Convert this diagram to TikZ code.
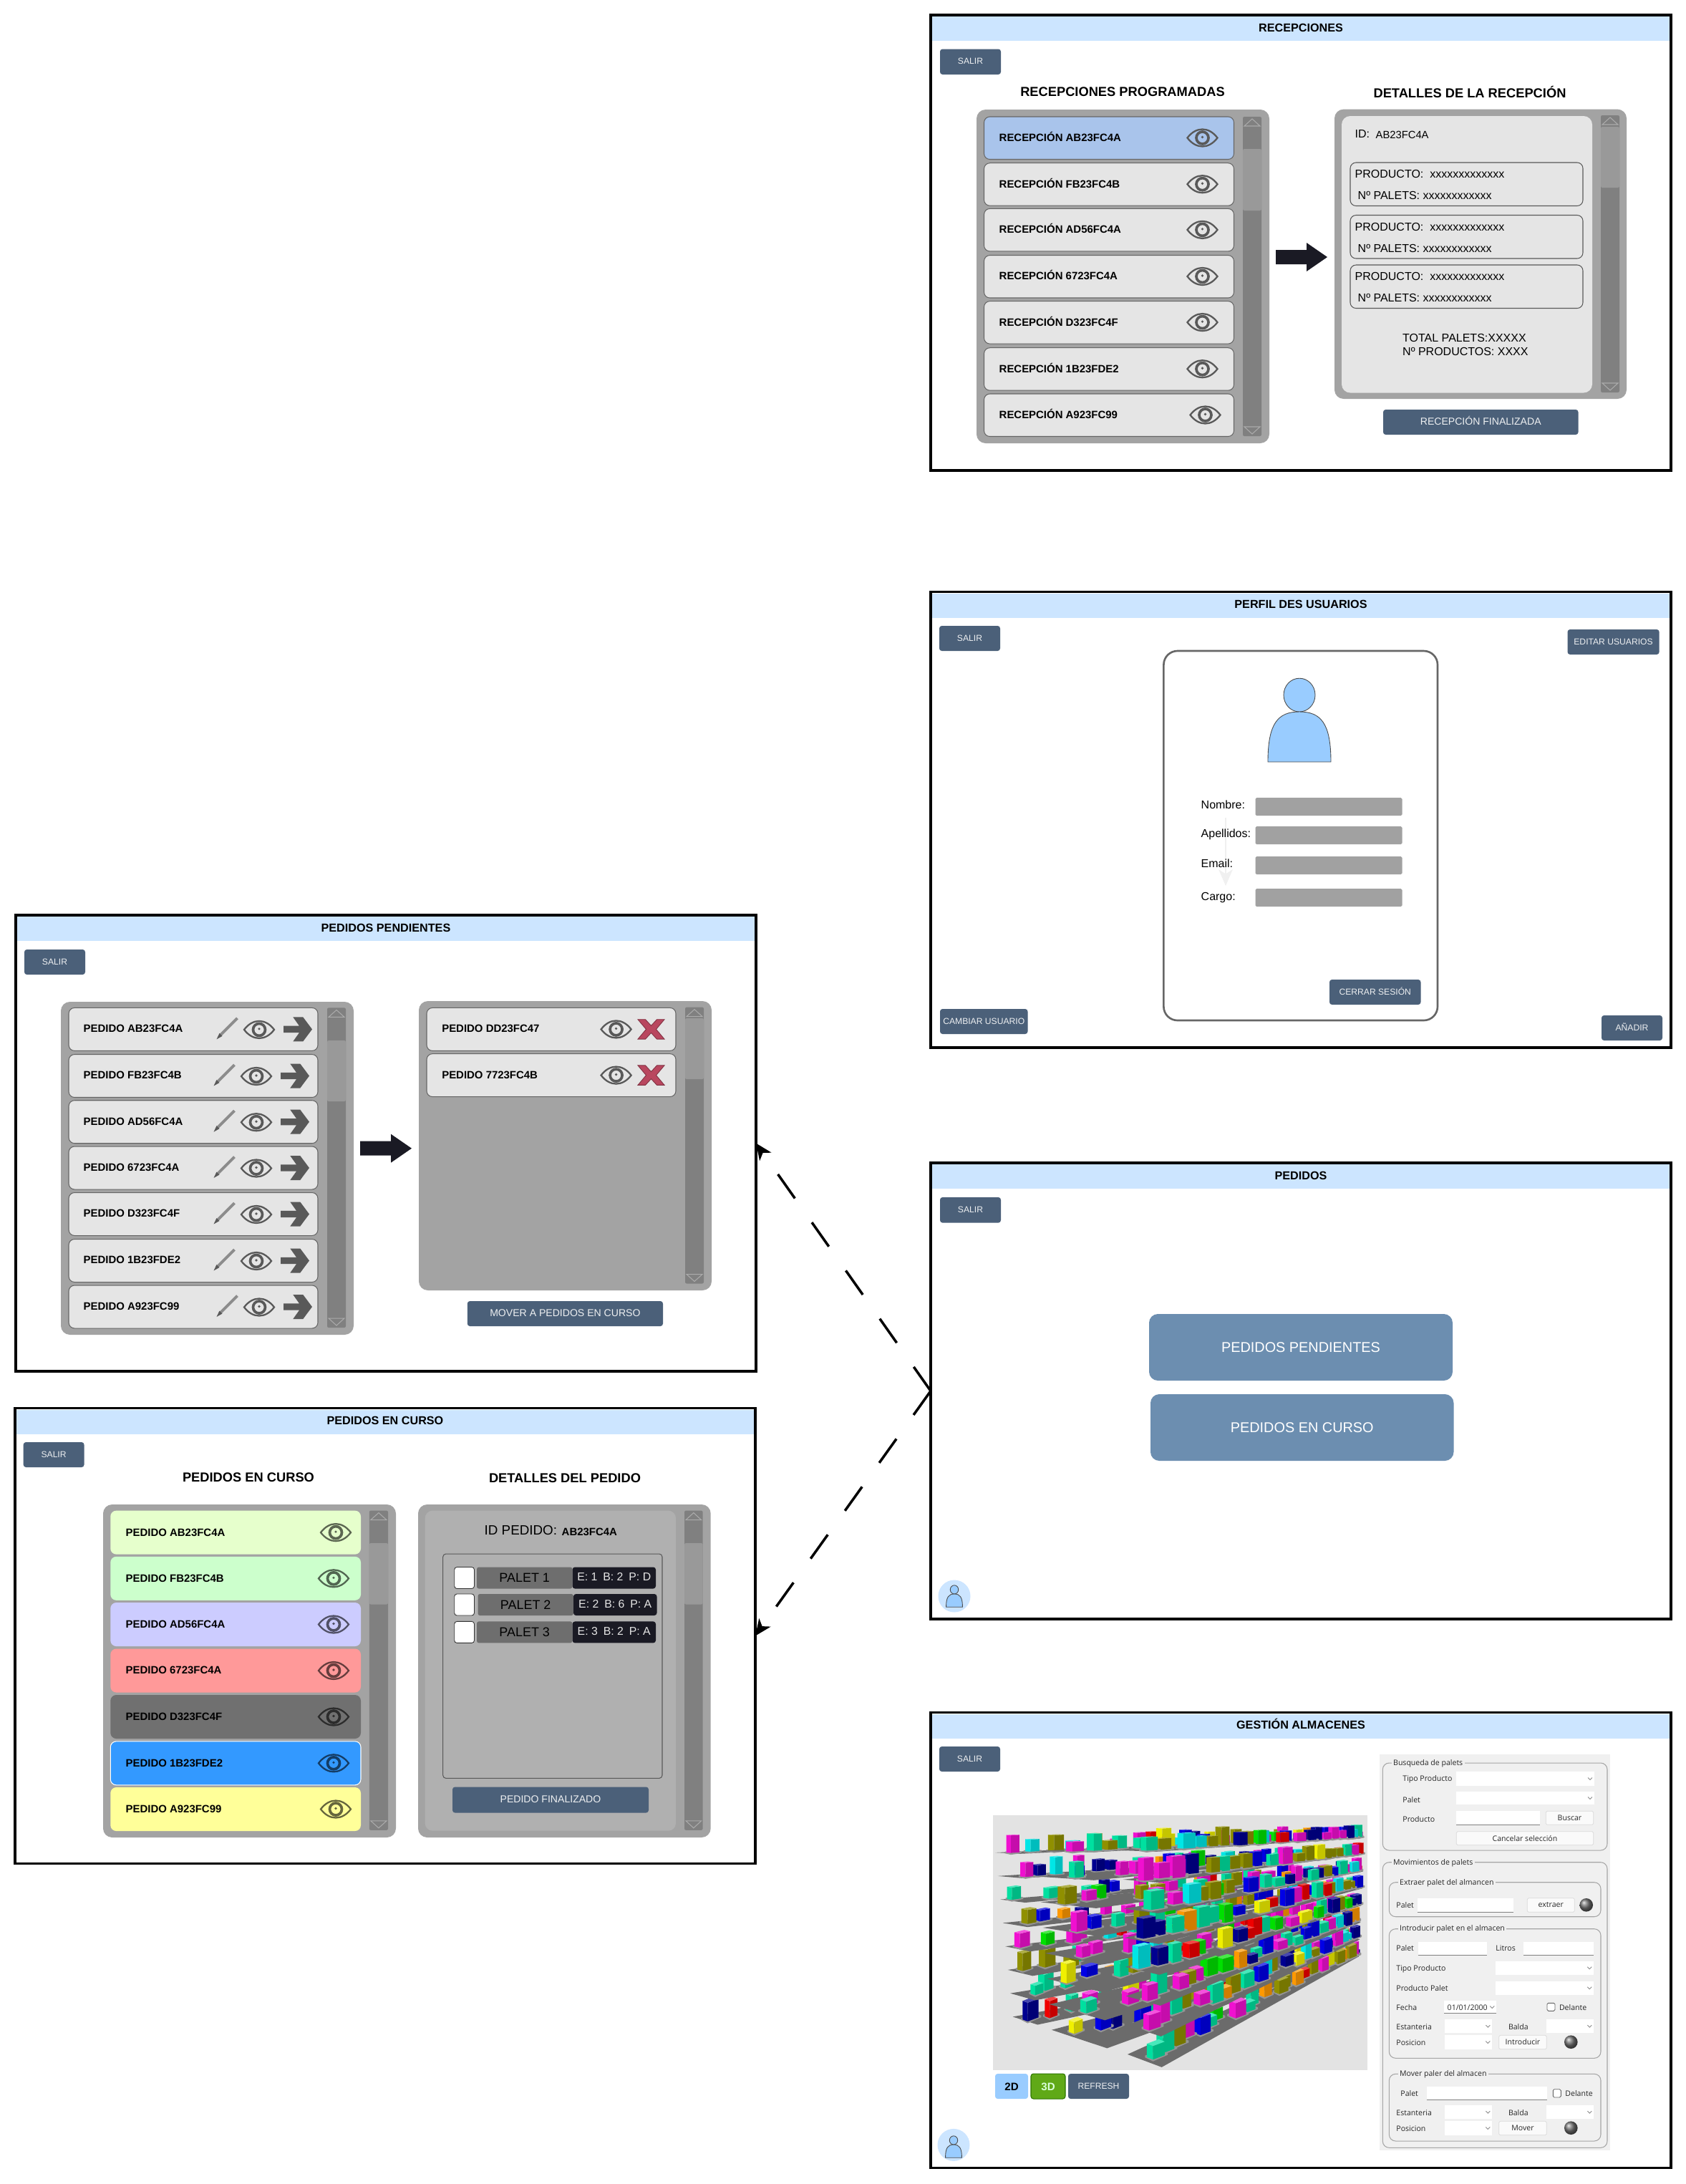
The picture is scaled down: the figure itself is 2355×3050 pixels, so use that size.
\documentclass[tikz,border=0pt]{standalone}
\usepackage{fontspec}
\setmainfont{Liberation Sans}
\newfontfamily\uifont{Open Sans}
\usetikzlibrary{arrows.meta}
\definecolor{btnblue}{HTML}{4B6079}
\definecolor{barblue}{HTML}{CCE5FF}
\definecolor{bigblue}{HTML}{6C8EB0}
\definecolor{personblue}{HTML}{99CCFF}
\definecolor{selblue}{HTML}{A9C4EB}
\definecolor{xred}{HTML}{B9475F}
\definecolor{inkdark}{HTML}{1A1A24}
\definecolor{rowa}{HTML}{E6FFCC}
\definecolor{rowb}{HTML}{CCFFCC}
\definecolor{rowc}{HTML}{CCCCFF}
\definecolor{rowd}{HTML}{FF9999}
\definecolor{rowe}{HTML}{707070}
\definecolor{rowf}{HTML}{3399FF}
\definecolor{rowg}{HTML}{FFFF99}
\definecolor{bxm}{HTML}{F010D0}
\definecolor{bxt}{HTML}{00E0A0}
\definecolor{bxo}{HTML}{909000}
\definecolor{bxb}{HTML}{0000E6}
\definecolor{bxr}{HTML}{F00000}
\definecolor{bxg}{HTML}{00E000}
\definecolor{bxc}{HTML}{00E6E6}
\definecolor{bxn}{HTML}{000090}
\definecolor{bxa}{HTML}{FF9900}
\definecolor{bxy}{HTML}{F0F000}
\pgfmathdeclarerandomlist{boxcols}{{bxm}{bxm}{bxm}{bxm}{bxm}{bxt}{bxt}{bxt}{bxo}{bxo}{bxo}{bxb}{bxb}{bxr}{bxg}{bxc}{bxn}{bxa}{bxy}}
\tikzset{
  panelframe/.style={draw=black,line width=1pt,fill=white,inner sep=0,outer sep=0},
  titlebar/.style={fill=barblue,inner sep=0,outer sep=0,text height=3.3pt,text depth=1pt,font=\bfseries\fontsize{4.6}{5}\selectfont},
  btn/.style={fill=btnblue,rounded corners=1pt,inner sep=0,outer sep=0,text=white!90!btnblue,
    text height=3pt,text depth=1pt,font=\fontsize{3.45}{4}\selectfont},
  btnbig/.style={btn,font=\fontsize{4}{5}\selectfont},
  bigbtn/.style={fill=bigblue,rounded corners=3.5pt,inner sep=0,outer sep=0,text=white,font=\fontsize{5.65}{6}\selectfont},
  listbox/.style={fill=black!36,rounded corners=3.6pt,inner sep=0,outer sep=0},
  rowbox/.style={fill=black!10,draw=black!60,line width=.3pt,rounded corners=2.3pt,inner sep=0,outer sep=0},
  rowtint/.style={rounded corners=2.3pt,inner sep=0,outer sep=0},
  rowlabel/.style={anchor=west,inner sep=0,text height=3.1pt,text depth=0pt,font=\bfseries\fontsize{4.25}{5}\selectfont},
  plainlabel/.style={anchor=west,inner sep=0,text height=3.3pt,text depth=0pt,font=\fontsize{4.55}{5.5}\selectfont},
  headlabel/.style={inner sep=0,font=\bfseries\fontsize{5.2}{6}\selectfont},
  trackbox/.style={fill=black!50,rounded corners=.6pt,inner sep=0,outer sep=0},
  thumbbox/.style={fill=black!40,rounded corners=.6pt,inner sep=0,outer sep=0},
  prodbox/.style={draw=black!65,line width=.3pt,rounded corners=2.3pt,inner sep=0,outer sep=0},
  fieldbar/.style={fill=black!37,rounded corners=.5pt,inner sep=0,outer sep=0},
  uitext/.style={anchor=west,inner sep=0,text=black!85,font=\uifont\fontsize{3}{3.6}\selectfont},
  uigroup/.style={draw=black!35,line width=.3pt,rounded corners=2.6pt,inner sep=0,outer sep=0},
  uititle/.style={uitext,fill=black!6,inner xsep=.7pt,inner ysep=.3pt},
  uifield/.style={fill=white,inner sep=0,outer sep=0},
  uibtn/.style={fill=white!98!black,draw=black!15,line width=.2pt,rounded corners=.5pt,inner sep=0,outer sep=0,
    text=black!85,font=\uifont\fontsize{3}{3.6}\selectfont},
  ledball/.style={circle,inner sep=0,minimum size=5.3pt,ball color=black!55},
  tickbox/.style={draw=black!60,line width=.25pt,fill=white,rounded corners=.5pt,inner sep=0,outer sep=0},
  linkarrow/.style={->,line width=1pt,dash pattern=on 11.7pt off 11.7pt},
}
\newcommand{\boxnode}[7][]{\node[#1,minimum width=((#5)-(#3))*0.01cm,minimum height=((#6)-(#4))*0.01cm] (#2) at ({((#3)+(#5))/2},{((#4)+(#6))/2}) {#7};}
\newcommand{\panel}[6]{\boxnode[panelframe]{#1}{#2}{#3}{#4}{#5}{}
  \boxnode[titlebar]{#1title}{#2+2}{#3+2}{#4-2}{#3+36}{#6}}
\newcommand{\scrollbar}[7]{\boxnode[trackbox]{#1}{#2}{#3}{#4}{#5}{}
  \boxnode[thumbbox]{#1thumb}{#2}{#6}{#4}{#7}{}
  \draw[black!33,line width=.3pt] ({#2+2},{#3+13}) -- ({(#2+#4)/2},{#3+3}) -- ({#4-2},{#3+13}) -- cycle;
  \draw[black!33,line width=.3pt] ({#2+2},{#5-13}) -- ({(#2+#4)/2},{#5-3}) -- ({#4-2},{#5-13}) -- cycle;}
\newcommand{\eyeicon}[3][black!65]{\begin{scope}[shift={(#2,#3)}]
  \draw[#1,line width=.65pt] (-21,0) .. controls (-9,-16) and (9,-16) .. (21,0) .. controls (9,16) and (-9,16) .. (-21,0) -- cycle;
  \draw[#1,line width=1.05pt] (0,0) circle (8.5);
  \fill[#1] (0,-1) circle (1.8);
\end{scope}}
\newcommand{\bigarrow}[2]{\fill[inkdark,shift={(#1,#2)}] (0,-10) -- (43,-10) -- (43,-20) -- (72,0) -- (43,20) -- (43,10) -- (0,10) -- cycle;}
\newcommand{\goicon}[2]{\fill[black!65,shift={(#1,#2)}] (0,-4.7) -- (22,-4.7) -- (13.3,-17) -- (27.3,-17) -- (40,0) -- (27.3,17) -- (13.3,17) -- (22,4.7) -- (0,4.7) -- cycle;}
\newcommand{\penicon}[2]{\begin{scope}[shift={(#1,#2)}]
  \draw[black!45,line width=1.1pt] (-9,9) -- (14.5,-14.5);
  \fill[black!65] (-14.5,15) -- (-10.5,6.5) -- (-6.5,10.5) -- cycle;
\end{scope}}
\newcommand{\xicon}[2]{\filldraw[fill=xred,draw=xred!70!black,line width=.25pt,shift={(#1,#2)}] (-18.5,-13.7) -- (-8,-13.7) -- (0,-5) -- (8,-13.7) -- (18.5,-13.7) -- (7,0) -- (18.5,13.7) -- (8,13.7) -- (0,5) -- (-8,13.7) -- (-18.5,13.7) -- (-7,0) -- cycle;}
\newcommand{\personicon}[3]{\begin{scope}[shift={(#1,#2)},scale=#3]
  \filldraw[fill=personblue,draw=black!70,line width=.25pt] (0,-23.4) ellipse (22 and 23.4);
  \filldraw[fill=personblue,draw=black!70,line width=.25pt] (-44,70) .. controls (-44,16) and (-30,0) .. (0,0) .. controls (30,0) and (44,16) .. (44,70) -- cycle;
\end{scope}}
\newcommand{\combobox}[5]{\boxnode[uifield]{#1}{#2}{#3}{#4}{#5}{}
  \draw[black!45,line width=.25pt] ({#4-9},{(#3+#5)/2-1.5}) -- ({#4-6},{(#3+#5)/2+1.5}) -- ({#4-3},{(#3+#5)/2-1.5});}
\newcommand{\lineedit}[5]{\boxnode[uifield]{#1}{#2}{#3}{#4}{#5}{}
  \draw[black!50,line width=.25pt] (#1.south west) -- (#1.south east);}
\newcommand{\rackview}[7]{\foreach \lv in {7,...,0}{
    \pgfmathsetmacro\sAx{#1+(#3-#1)*\lv/7}
    \pgfmathsetmacro\sAy{#2+(#4-#2)*\lv/7}
    \pgfmathsetmacro\sDy{4+(#6-4)*\lv/7}
    \pgfmathsetmacro\sBx{\sAx+#5}
    \pgfmathsetmacro\sBy{\sAy+\sDy}
    \pgfmathsetmacro\sCx{1530-2.9*\lv}
    \pgfmathsetmacro\sCy{435+55.7*\lv}
    \pgfmathsetmacro\sEx{\sCx-0.25*#5}
    \pgfmathsetmacro\sEy{\sCy-0.25*\sDy}
    \pgfmathsetmacro\sTilt{0.06+0.3*\lv/7}
    \fill[black!58] (\sAx,\sAy) -- (\sBx,\sBy) -- (\sCx,\sCy) -- (\sEx,\sEy) -- cycle;
    \foreach \bk in {21,...,0}{
      \pgfmathsetmacro\sT{(\bk+rnd*0.6)/22}
      \pgfmathsetmacro\sU{1-(1-\sT)^1.35}
      \pgfmathsetmacro\sV{0.25+0.5*rnd}
      \pgfmathsetmacro\sS{(1-0.45*\sU)*#7}
      \pgfmathsetmacro\sNx{\sAx+\sV*(\sBx-\sAx)}
      \pgfmathsetmacro\sNy{\sAy+\sV*(\sBy-\sAy)}
      \pgfmathsetmacro\sPx{\sNx+\sU*(\sEx+\sV*(\sCx-\sEx)-\sNx)}
      \pgfmathsetmacro\sPy{\sNy+\sU*(\sEy+\sV*(\sCy-\sEy)-\sNy)}
      \pgfmathsetmacro\sWl{(15+8*rnd)*\sS}
      \pgfmathsetmacro\sWr{(25+12*rnd)*\sS}
      \pgfmathsetmacro\sH{(28+34*rnd)*\sS}
      \pgfmathsetmacro\sDl{\sWl*\sTilt}
      \pgfmathsetmacro\sDr{\sWr*\sTilt}
      \pgfmathrandomitem{\bc}{boxcols}
      \begin{scope}[shift={(\sPx,\sPy)}]
        \fill[black!42] ({-1.3*\sWl},{-1.3*\sDl+3}) -- (0,6) -- ({1.25*\sWr},{-1.25*\sDr+3}) -- ({1.25*\sWr},{-1.25*\sDr-3}) -- ({1.25*\sWr-1.3*\sWl},{-1.25*\sDr-1.3*\sDl-3}) -- ({-1.3*\sWl},{-1.3*\sDl-3}) -- cycle;
        \fill[\bc] ({-\sWl},{-\sDl}) -- (0,0) -- (0,-\sH) -- ({-\sWl},{-\sDl-\sH}) -- cycle;
        \fill[\bc!82!black] (0,0) -- ({\sWr},{-\sDr}) -- ({\sWr},{-\sDr-\sH}) -- (0,-\sH) -- cycle;
        \fill[\bc!72!white] ({-\sWl},{-\sDl-\sH}) -- (0,-\sH) -- ({\sWr},{-\sDr-\sH}) -- ({\sWr-\sWl},{-\sDl-\sDr-\sH}) -- cycle;
      \end{scope}
    }
  }}
\begin{document}
\begin{tikzpicture}[x=0.01cm,y=-0.01cm,>={Stealth[length=6.5pt,width=5.6pt,inset=1.8pt]}]
  \pgfmathsetseed{11}
  \path[use as bounding box,fill=white] (0,0) rectangle (2355,3050);
  % right column sits 2 further over
  \begin{scope}[shift={(2,0)}]
  % RECEPCIONES
  \panel{recepciones}{1298}{21}{2332}{657}{RECEPCIONES}
  \boxnode[btn]{recsalir}{1311}{68.5}{1396}{104}{SALIR}
  \node[headlabel] (reclefthead) at (1566,128) {RECEPCIONES PROGRAMADAS};
  \node[headlabel] (recrighthead) at (2051,128) {DETALLES DE LA RECEPCIÓN};
  \boxnode[listbox]{reclist}{1362}{153}{1771}{619}{}
  \foreach \y/\t/\ex/\i in {227.7/FB23FC4B/0/2,291.4/AD56FC4A/0/3,356.5/6723FC4A/0/4,420.6/D323FC4F/0/5,485.7/1B23FDE2/0/6,550/A923FC99/4/7}{
    \boxnode[rowbox]{recrow\i}{1372.5}{\y}{1721.5}{\y+59.5}{}
    \node[rowlabel] (reclabel\i) at (1393,{\y+29}) {RECEPCIÓN \t};
    \eyeicon{1677.5+\ex}{\y+29.5}
  }
  \boxnode[rowbox,fill=selblue]{recrowsel}{1372.5}{163}{1721.5}{222.5}{}
  \node[rowlabel] (reclabelsel) at (1393,192) {RECEPCIÓN AB23FC4A};
  \eyeicon{1677.5}{192.5}
  \scrollbar{recscroll}{1734}{163}{1760}{609}{208}{294}
  \bigarrow{1780}{359}
  \boxnode[listbox]{recdetail}{1862}{152.6}{2270}{557}{}
  \boxnode[rowtint,fill=black!10,rounded corners=3.4pt]{recinner}{1872}{162}{2222}{548.5}{}
  \scrollbar{recdetscroll}{2234}{161}{2260}{548}{177}{262}
  \node[plainlabel] (recid) at (1890,187) {ID:};
  \node[plainlabel,font=\fontsize{4.2}{5}\selectfont] (recidval) at (1919,188) {AB23FC4A};
  \foreach \y/\i in {227/1,300.5/2,370/3}{
    \boxnode[prodbox]{recprod\i}{1884}{\y}{2209}{\y+60.5}{}
    \node[plainlabel] (recprodtxt\i) at (1890,{\y+16}) {PRODUCTO:\ \ xxxxxxxxxxxxx};
    \node[plainlabel] (recpaltxt\i) at (1894,{\y+46}) {Nº PALETS: xxxxxxxxxxxx};
  }
  \node[plainlabel] (rectotal) at (1956.5,472) {TOTAL PALETS:XXXXX};
  \node[plainlabel] (recnprod) at (1956.5,490.5) {Nº PRODUCTOS: XXXX};
  \boxnode[btnbig]{recfin}{1930}{572}{2202.5}{607}{RECEPCIÓN FINALIZADA}
  % PERFIL
  \panel{perfil}{1298}{826.5}{2332}{1463}{PERFIL DES USUARIOS}
  \boxnode[btn]{persalir}{1310}{874}{1395}{909}{SALIR}
  \boxnode[btn]{pereditar}{2187.5}{879}{2315.6}{914}{EDITAR USUARIOS}
  \boxnode[draw=black!60,line width=.75pt,rounded corners=5.5pt,inner sep=0,outer sep=0]{percard}{1623.4}{909}{2006}{1425}{}
  \personicon{1813}{994}{1}
  \coordinate (perfainta) at (1710,1142);
  \coordinate (perfaintb) at (1710,1237);
  \draw[->,black!6,line width=.3pt] (perfainta) -- (perfaintb);
  \foreach \y/\fy/\t/\i in {1124/1114/Nombre:/1,1164/1154/Apellidos:/2,1206/1196/Email:/3,1251.5/1241/Cargo:/4}{
    \node[plainlabel] (perlabel\i) at (1675,\y) {\t};
    \boxnode[fieldbar]{perfield\i}{1751.5}{\fy}{1956.5}{\fy+25}{}
  }
  \boxnode[btn]{percerrar}{1855}{1368}{1982.5}{1403}{CERRAR SESIÓN}
  \boxnode[btn]{percambiar}{1311}{1409}{1433.5}{1444}{CAMBIAR USUARIO}
  \boxnode[btn]{peranadir}{2235}{1418}{2320}{1453}{AÑADIR}
  % PEDIDOS
  \panel{pedidos}{1298}{1624}{2332}{2261}{PEDIDOS}
  \boxnode[btn]{pedsalir}{1311}{1672}{1396}{1707.6}{SALIR}
  \boxnode[bigbtn]{pedpend}{1603}{1835}{2027}{1928}{PEDIDOS PENDIENTES}
  \boxnode[bigbtn]{pedcurso}{1605}{1947}{2028.5}{2040}{PEDIDOS EN CURSO}
  \node[circle,fill=barblue,minimum size=45*0.01cm,inner sep=0] (pedavatar) at (1331,2229) {};
  \personicon{1331}{2226}{.26}
  % GESTION ALMACENES
  \panel{gestion}{1298}{2391.5}{2332}{3027.5}{GESTIÓN ALMACENES}
  \boxnode[btn]{gessalir}{1310}{2439}{1395}{2474}{SALIR}
  \boxnode[fill=black!11,inner sep=0,outer sep=0]{gesview}{1385}{2535}{1908}{2891}{}
  \begin{scope}[shift={(1280,2380)},xscale=0.408,yscale=0.427]
    \rackview{265}{485}{325}{1022}{85}{26}{1}
    \rackview{405}{480}{458}{1065}{190}{60}{1.1}
    \rackview{700}{478}{718}{1145}{117}{42}{1.25}
  \end{scope}
  \boxnode[rowtint,fill=personblue,rounded corners=1pt,text height=3.3pt,font=\bfseries\fontsize{4.3}{5}\selectfont]{ges2d}{1388}{2896}{1434}{2931}{2D}
  \boxnode[rowtint,fill={rgb,255:red,96;green,169;blue,23},draw={rgb,255:red,45;green,118;blue,0},line width=.3pt,rounded corners=1pt,text=white!85!green,text height=3.3pt,font=\bfseries\fontsize{4.3}{5}\selectfont]{ges3d}{1438}{2896}{1486}{2931}{3D}
  \boxnode[btn]{gesrefresh}{1490}{2896}{1575}{2931}{REFRESH}
  \node[circle,fill=barblue,minimum size=45*0.01cm,inner sep=0] (gesavatar) at (1330,2995.4) {};
  \personicon{1330}{2995}{.26}
  % side form
  \boxnode[fill=black!6,inner sep=0,outer sep=0]{uiback}{1925}{2450}{2247}{3003}{}
  \boxnode[uigroup]{uibusqueda}{1929.3}{2462}{2243}{2584}{}
  \node[uititle] (uitbusqueda) at (1941,2462.7) {Busqueda de palets};
  \node[uitext] (uitipo) at (1956.7,2485) {Tipo Producto};
  \node[uitext] (uipaleta) at (1956.7,2513.3) {Palet};
  \node[uitext] (uiproducto) at (1956.7,2541) {Producto};
  \combobox{uicomboa}{2031.7}{2474}{2225}{2494}
  \combobox{uicombob}{2031.7}{2501.7}{2225}{2520.3}
  \lineedit{uiedita}{2032}{2529.3}{2149.3}{2548.3}
  \boxnode[uibtn]{uibuscar}{2157.3}{2529.3}{2223.7}{2548.3}{Buscar}
  \boxnode[uibtn]{uicancelar}{2032.3}{2557.7}{2223.7}{2576.7}{Cancelar selección}
  \boxnode[uigroup]{uimov}{1929.3}{2600.7}{2243}{2999.3}{}
  \node[uititle] (uitmov) at (1941,2601.7) {Movimientos de palets};
  \boxnode[uigroup]{uiextraer}{1938.3}{2628.7}{2234}{2676.7}{}
  \node[uititle] (uitextraer) at (1950,2629.3) {Extraer palet del almancen};
  \node[uitext] (uipaletb) at (1947.7,2661) {Palet};
  \lineedit{uieditb}{1977.7}{2651.3}{2112.3}{2670.3}
  \boxnode[uibtn]{uiextbtn}{2131.3}{2650.7}{2197.3}{2670.3}{extraer}
  \node[ledball] (uileda) at (2213.7,2660.3) {};
  \boxnode[uigroup]{uiintro}{1938.3}{2693.7}{2234}{2874.3}{}
  \node[uititle] (uitintro) at (1950,2694) {Introducir palet en el almacen};
  \node[uitext] (uipaletc) at (1947.7,2721) {Palet};
  \lineedit{uieditc}{1978.7}{2711.7}{2075.3}{2730.3}
  \node[uitext] (uilitros) at (2086.7,2721) {Litros};
  \lineedit{uieditd}{2126}{2711.7}{2224.3}{2730.3}
  \node[uitext] (uitipob) at (1947.7,2749.3) {Tipo Producto};
  \combobox{uicomboc}{2087.3}{2738.7}{2224.3}{2757.7}
  \node[uitext] (uiprodpal) at (1947.7,2777) {Producto Palet};
  \combobox{uicombod}{2087.3}{2766.7}{2224.3}{2785.7}
  \node[uitext] (uifecha) at (1947.7,2803.3) {Fecha};
  \combobox{uidate}{2015}{2794.3}{2088.3}{2811.7}
  \draw[black!50,line width=.25pt] (uidate.south west) -- (uidate.south east);
  \node[uitext] (uidatetxt) at (2019,2803.3) {01/01/2000};
  \boxnode[tickbox]{uitickb}{2159}{2797.3}{2170}{2808.3}{}
  \node[uitext] (uidelb) at (2175.3,2803.3) {Delante};
  \node[uitext] (uiestb) at (1947.7,2830.3) {Estanteria};
  \combobox{uicomboe}{2015.7}{2820}{2082.3}{2839.3}
  \node[uitext] (uibalb) at (2104.3,2830.3) {Balda};
  \combobox{uicombof}{2158.3}{2820}{2224.3}{2839.3}
  \node[uitext] (uiposb) at (1947.7,2852.3) {Posicion};
  \combobox{uicombog}{2015.7}{2842.3}{2082.3}{2861.7}
  \boxnode[uibtn]{uiintbtn}{2091.7}{2842.3}{2158.3}{2861.7}{Introducir}
  \node[ledball] (uiledb) at (2192.3,2851.7) {};
  \boxnode[uigroup]{uimover}{1938.3}{2896.3}{2234}{2990}{}
  \node[uititle] (uitmover) at (1950,2896.7) {Mover paler del almacen};
  \node[uitext] (uipaletd) at (1953.7,2923.7) {Palet};
  \lineedit{uiedite}{1990.7}{2914}{2158.7}{2932.3}
  \boxnode[tickbox]{uitickc}{2167.3}{2917.7}{2178.3}{2929}{}
  \node[uitext] (uidelc) at (2183.7,2923.7) {Delante};
  \node[uitext] (uiestc) at (1947.7,2950.3) {Estanteria};
  \combobox{uicomboh}{2015.7}{2940}{2082.3}{2959.3}
  \node[uitext] (uibalc) at (2104.3,2950.3) {Balda};
  \combobox{uicomboi}{2158.3}{2940}{2224.3}{2959.3}
  \node[uitext] (uiposc) at (1947.7,2972.3) {Posicion};
  \combobox{uicomboj}{2015.7}{2962.3}{2082.3}{2981.7}
  \boxnode[uibtn]{uimovbtn}{2091.7}{2962.3}{2158.3}{2981.7}{Mover}
  \node[ledball] (uiledc) at (2192.3,2971.7) {};
  \end{scope}
  % PEDIDOS PENDIENTES
  \panel{pendientes}{22}{1278}{1056}{1915}{PEDIDOS PENDIENTES}
  \boxnode[btn]{pensalir}{34}{1326}{119}{1361}{SALIR}
  \boxnode[listbox]{penlist}{85}{1399}{494}{1864}{}
  \foreach \y/\t/\ex/\i in {1407.4/AB23FC4A/4/1,1472.5/FB23FC4B/0/2,1536.7/AD56FC4A/0/3,1601/6723FC4A/0/4,1665.5/D323FC4F/0/5,1730.5/1B23FDE2/0/6,1795/A923FC99/4/7}{
    \boxnode[rowbox]{penrow\i}{96}{\y}{444}{\y+60}{}
    \node[rowlabel] (penlabel\i) at (116,{\y+29}) {PEDIDO \t};
    \penicon{313+\ex}{\y+29}
    \eyeicon{358+\ex}{\y+30.5}
    \goicon{392+\ex}{\y+30}
  }
  \scrollbar{penscroll}{457}{1407.4}{483}{1854}{1453}{1538}
  \bigarrow{503}{1603.7}
  \boxnode[listbox]{pendest}{585}{1398}{994}{1802}{}
  \foreach \y/\t/\i in {1407.4/DD23FC47/1,1471.6/7723FC4B/2}{
    \boxnode[rowbox]{pendrow\i}{596}{\y}{944}{\y+60}{}
    \node[rowlabel] (pendlabel\i) at (616.6,{\y+29}) {PEDIDO \t};
    \eyeicon{860.6}{\y+30}
    \xicon{909.5}{\y+30}
  }
  \scrollbar{pendscroll}{957}{1406.6}{983}{1792.5}{1422}{1507}
  \boxnode[btnbig]{penmover}{652.8}{1817}{926}{1852}{MOVER A PEDIDOS EN CURSO}
  % PEDIDOS EN CURSO
  \panel{encurso}{21}{1966.5}{1055}{2602.6}{PEDIDOS EN CURSO}
  \boxnode[btn]{cursalir}{32.7}{2014}{117.5}{2049}{SALIR}
  \node[headlabel] (curlefthead) at (347,2062.7) {PEDIDOS EN CURSO};
  \node[headlabel] (currighthead) at (789,2064.5) {DETALLES DEL PEDIDO};
  \boxnode[listbox]{curlist}{144}{2101}{553}{2566}{}
  \foreach \y/\c/\t/\ex/\i in {2109.6/rowa/AB23FC4A/3/1,2173.8/rowb/FB23FC4B/0/2,2238/rowc/AD56FC4A/0/3,2302.5/rowd/6723FC4A/0/4,2367/rowe/D323FC4F/0/5,2431.8/rowf/1B23FDE2/0/6,2496/rowg/A923FC99/3/7}{
    \boxnode[rowtint,fill=\c]{currow\i}{154.3}{\y}{504}{\y+61}{}
    \node[rowlabel] (curlabel\i) at (175,{\y+30}) {PEDIDO \t};
    \eyeicon[black,opacity=.6]{466+\ex}{\y+30.5}
  }
  \draw[white,line width=.3pt,rounded corners=2.3pt] (currow6.south west) rectangle (currow6.north east);
  \scrollbar{curscroll}{515.8}{2109.6}{542}{2555.8}{2155}{2240.5}
  \boxnode[listbox]{curdetail}{584}{2101}{992.7}{2566}{}
  \boxnode[rowtint,fill=black!31,rounded corners=3pt]{curinner}{593.7}{2109.6}{944}{2556.7}{}
  \scrollbar{curdetscroll}{956}{2109.6}{981.6}{2555.8}{2155}{2240.5}
  \node[plainlabel,font=\fontsize{5.35}{6}\selectfont] (curid) at (676,2137.8) {ID PEDIDO:};
  \node[rowlabel] (curidval) at (784,2139) {AB23FC4A};
  \boxnode[prodbox,rounded corners=1.2pt]{curbox}{618.7}{2170}{925}{2483.4}{}
  \foreach \y/\t/\b/\i in {2188.5/E: 1\enspace B: 2\enspace P: D/0/1,2226/E: 2\enspace B: 6\enspace P: A/1.5/2,2264.4/E: 3\enspace B: 2\enspace P: A/0/3}{
    \boxnode[tickbox,draw=black!80,rounded corners=1pt]{curtick\i}{634.7}{\y}{662.5}{\y+30}{}
    \boxnode[rowtint,fill=black!57,rounded corners=.8pt,text=black,font=\fontsize{5.1}{6}\selectfont]{curpalet\i}{666+\b}{\y}{799.4+\b}{\y+30}{PALET \i}
    \boxnode[rowtint,fill=inkdark,rounded corners=1pt,text=white!90!black,text height=3.3pt,text depth=1pt,font=\fontsize{4.5}{5.5}\selectfont]{curpos\i}{799.5+\b}{\y}{916+\b}{\y+30}{\t}
  }
  \boxnode[btnbig]{curfin}{632}{2495.5}{906}{2531.5}{PEDIDO FINALIZADO}
  % links
  \draw[linkarrow] (pedidos.west) -- (pendientes.east);
  \draw[linkarrow] (pedidos.west) -- (encurso.east);
\end{tikzpicture}
\end{document}
